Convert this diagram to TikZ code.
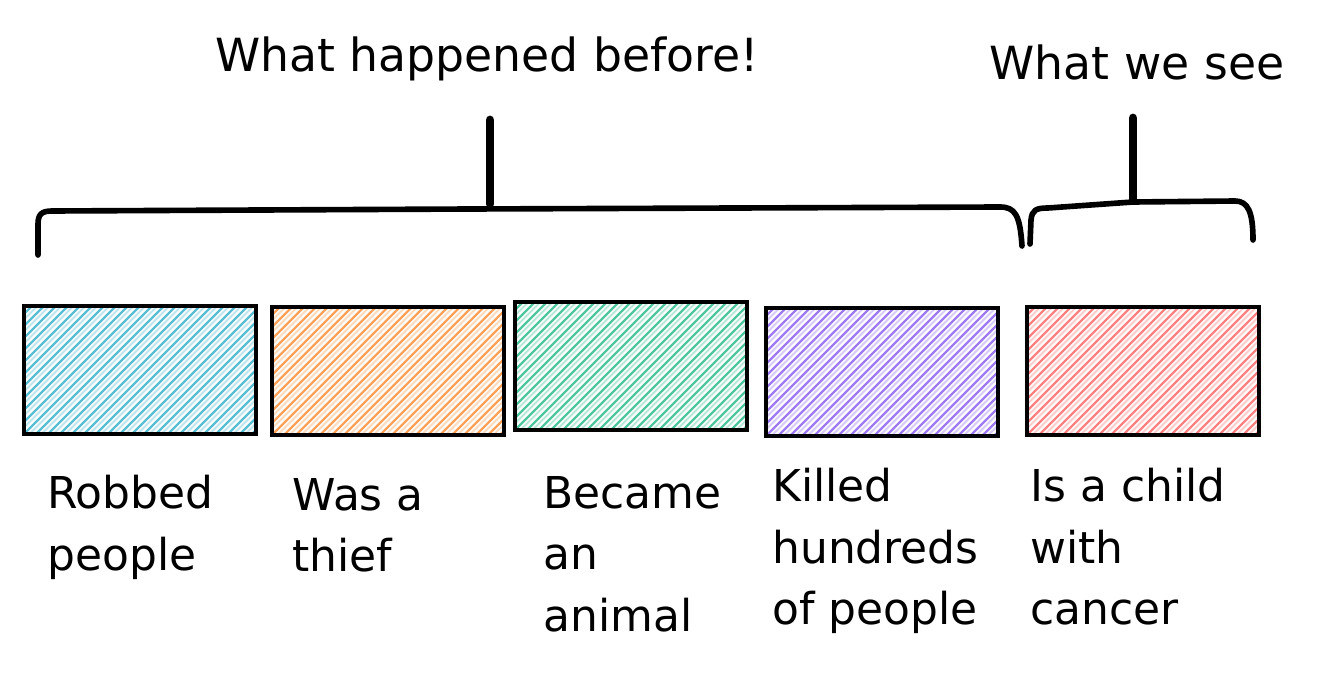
\documentclass[tikz,border=0pt]{standalone}
\usepackage{fontspec}
\setmainfont{DejaVu Sans}
\usetikzlibrary{calc,positioning}
\definecolor{ccyan}{RGB}{88,190,212}
\definecolor{corange}{RGB}{255,162,88}
\definecolor{cgreen}{RGB}{78,198,158}
\definecolor{cpurple}{RGB}{158,122,245}
\definecolor{cred}{RGB}{255,128,128}
\tikzset{
  % sketchy boxes: black outline, coloured 45 degree hatching
  card/.style={rectangle,draw=black,line width=1.8pt,minimum width=4.64cm,
    minimum height=2.56cm,inner sep=0pt},
  hatch/.style={path picture={
    \foreach \k in {-12,...,20} {
      \draw[#1!40,line width=1.1pt]
        ([xshift=\k*0.24cm+0.11cm]path picture bounding box.south west) -- ++(3cm,3cm);
      \draw[#1,line width=1.3pt]
        ([xshift=\k*0.24cm]path picture bounding box.south west) -- ++(3cm,3cm);
    }}},
  caption/.style={anchor=north west,align=left,inner sep=0pt,
    font=\fontsize{25}{35}\selectfont},
  headline/.style={inner sep=0pt,font=\fontsize{26}{30}\selectfont},
  brace/.style={line width=3.2pt,line cap=round,line join=round},
  stem/.style={line width=5pt,line cap=round}
}
\begin{document}
\begin{tikzpicture}[x=0.02cm,y=-0.02cm]
 \useasboundingbox (0,0) rectangle (1320,676);
 % headlines
 \node[headline] (before) at (487,59) {What happened before!};
 \node[headline] (see) at (1137,62) {What we see};
 % braces
 \draw[brace] (38,255) -- (38,224) .. controls (38,214) and (42,211) .. (52,211)
   -- (470,209) -- (1000,207) .. controls (1015,207) and (1020,215) .. (1022,246);
 \draw[stem] (490,204) -- (490,120);
 \draw[brace] (1030,244) -- (1031,220) .. controls (1032,210) and (1036,208) .. (1048,208)
   -- (1133,202) -- (1235,201) .. controls (1248,201) and (1253,212) .. (1253,240);
 \draw[stem] (1133,200) -- (1133,118);
 % boxes
 \node[card,hatch=ccyan] (robbed) at (140,370) {};
 \node[card,hatch=corange] (thief) at (388,371) {};
 \node[card,hatch=cgreen] (animal) at (631,366) {};
 \node[card,hatch=cpurple] (killed) at (882,372) {};
 \node[card,hatch=cred] (child) at (1143,371) {};
 % captions
 \node[caption] (robbedtxt) at (47,475) {Robbed\\people};
 \node[caption] (thieftxt) at (292,478) {Was a\\thief};
 \node[caption] (animaltxt) at (543,476) {Became\\an\\animal};
 \node[caption] (killedtxt) at (772,468) {Killed\\hundreds\\of people};
 \node[caption] (childtxt) at (1030,468) {Is a child\\with\\cancer};
\end{tikzpicture}
\end{document}
